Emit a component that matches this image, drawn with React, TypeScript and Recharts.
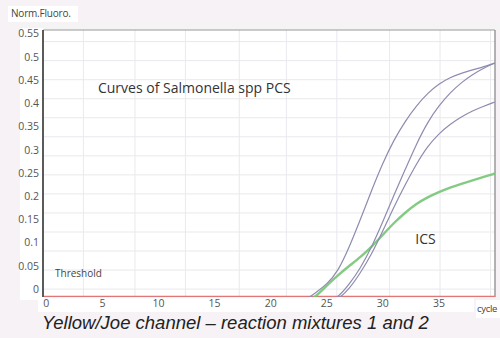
import React from "react";
import { LineChart, Line, XAxis, YAxis, CartesianGrid, ReferenceLine, ReferenceDot } from "recharts";

const cycles = [0,1,2,3,4,5,6,7,8,9,10,11,12,13,14,15,16,17,18,19,20,21,22,23,24,25,26,27,28,29,30,31,32,33,34,35,36,37,38,39,40];
const N = null;
const curveA = [N,N,N,N,N,N,N,N,N,N,N,N,N,N,N,N,N,N,N,N,N,N,N,-0.025,-0.008,0.01,0.038,0.09,0.15,0.213,0.272,0.322,0.362,0.395,0.422,0.442,0.456,0.465,0.472,0.479,0.487];
const curveB = [N,N,N,N,N,N,N,N,N,N,N,N,N,N,N,N,N,N,N,N,N,N,N,N,N,-0.03,-0.018,0.01,0.045,0.09,0.145,0.203,0.258,0.313,0.36,0.395,0.423,0.445,0.462,0.476,0.487];
const curveC = [N,N,N,N,N,N,N,N,N,N,N,N,N,N,N,N,N,N,N,N,N,N,N,N,N,-0.035,-0.022,0.0,0.035,0.075,0.125,0.178,0.225,0.27,0.308,0.335,0.355,0.371,0.384,0.394,0.403];
const curveICS = [N,N,N,N,N,N,N,N,N,N,N,N,N,N,N,N,N,N,N,N,N,N,N,-0.03,-0.017,0.008,0.03,0.05,0.069,0.091,0.117,0.143,0.165,0.184,0.198,0.209,0.219,0.227,0.234,0.242,0.249];

const xTicks = [0, 5, 10, 15, 20, 25, 30, 35];
const yTicks = [0, 0.05, 0.1, 0.15, 0.2, 0.25, 0.3, 0.35, 0.4, 0.45, 0.5, 0.55];
const gridX = [3.3, 7.9, 12.4, 17.2, 21.4, 25.9, 30.6, 35.1, 39.6];
const gridY = [0, 0.041, 0.082, 0.123, 0.164, 0.205, 0.246, 0.287, 0.328, 0.369, 0.41, 0.451, 0.492, 0.533];
const threshold = -0.0155;

const data = cycles.map((c, i) => ({ cycle: c, a: curveA[i], b: curveB[i], c: curveC[i], ics: curveICS[i] }));

const font = "'Open Sans', sans-serif";
const purple = "#8d8caf";

export default function App() {
  return (
    <div style={{ position: "absolute", left: 0, top: 0, width: 500, height: 338, background: "#f6f2f6", overflow: "hidden", fontFamily: font }}>
      <div style={{ position: "absolute", left: 8, top: 6, width: 70, height: 16, background: "#fff" }} />
      <div style={{ position: "absolute", left: 20, top: 24, width: 480, height: 5, background: "#f4f4f4" }} />
      <div style={{ position: "absolute", left: 20, top: 28, width: 24, height: 272, background: "#fff" }} />
      <div style={{ position: "absolute", left: 38, top: 298, width: 436, height: 14, background: "#fff" }} />
      <div style={{ position: "absolute", left: 476, top: 300, width: 24, height: 18, background: "#fff" }} />
      <div style={{ position: "absolute", left: 11, top: 6, fontSize: 10, color: "#444", lineHeight: "14px", letterSpacing: -0.2 }}>Norm.Fluoro.</div>
      <div style={{ position: "absolute", left: 477, top: 303, fontSize: 9.5, color: "#444", lineHeight: "12px", letterSpacing: -0.3 }}>cycle</div>
      <div style={{ position: "absolute", left: 42, top: 312, fontSize: 18.5, fontStyle: "italic", color: "#222", fontFamily: "'Liberation Sans', Arial, sans-serif", lineHeight: "22px", whiteSpace: "nowrap" }}>
        Yellow/Joe channel – reaction mixtures 1 and 2
      </div>
      <div style={{ position: "absolute", left: 0, top: 0 }}>
        <LineChart width={500} height={338} data={data} margin={{ top: 30, right: 5, bottom: 25, left: 0 }}>
          <CartesianGrid fill="#fff" stroke="#e9e9ee" verticalValues={gridX} horizontalValues={gridY} />
          <XAxis dataKey="cycle" type="number" domain={[-0.3, 40]} allowDataOverflow ticks={xTicks} height={16}
            tickLine={false} axisLine={false} tickSize={1} tickMargin={2}
            tick={{ fontSize: 10.5, fill: "#555", fontFamily: font }} interval={0} />
          <YAxis type="number" domain={[-0.017, 0.558]} allowDataOverflow ticks={yTicks} width={43}
            tickLine={false} axisLine={{ stroke: "#5a5a5a", strokeWidth: 2 }} tickSize={2} tickMargin={2}
            tick={{ fontSize: 10.5, fill: "#555", fontFamily: font }} interval={0} />
          <ReferenceLine y={0.558} stroke="#9a9a9a" strokeWidth={1} />
          <ReferenceLine x={40} stroke="#9a9a9a" strokeWidth={1.5} />
          <ReferenceLine y={threshold} stroke="#e07676" strokeWidth={1.2}
            label={{ value: "Threshold", position: "insideBottomLeft", dx: 7, dy: -14, fontSize: 10, fill: "#444", fontFamily: font }} />
          <Line type="basis" dataKey="ics" stroke="#76c476" strokeWidth={2.4} strokeOpacity={0.9} dot={false} isAnimationActive={false} />
          <Line type="basis" dataKey="a" stroke={purple} strokeWidth={1.2} dot={false} isAnimationActive={false} />
          <Line type="basis" dataKey="b" stroke={purple} strokeWidth={1.2} dot={false} isAnimationActive={false} />
          <Line type="basis" dataKey="c" stroke={purple} strokeWidth={1.2} dot={false} isAnimationActive={false} />
          <ReferenceDot x={4.6} y={0.432} r={0} fill="none" stroke="none"
            label={{ value: "Curves of Salmonella spp PCS", position: "right", offset: 0, fontSize: 14, fill: "#333", fontFamily: font }} />
          <ReferenceDot x={32.9} y={0.108} r={0} fill="none" stroke="none"
            label={{ value: "ICS", position: "right", offset: 0, fontSize: 14, fill: "#333", fontFamily: font }} />
        </LineChart>
      </div>
    </div>
  );
}
